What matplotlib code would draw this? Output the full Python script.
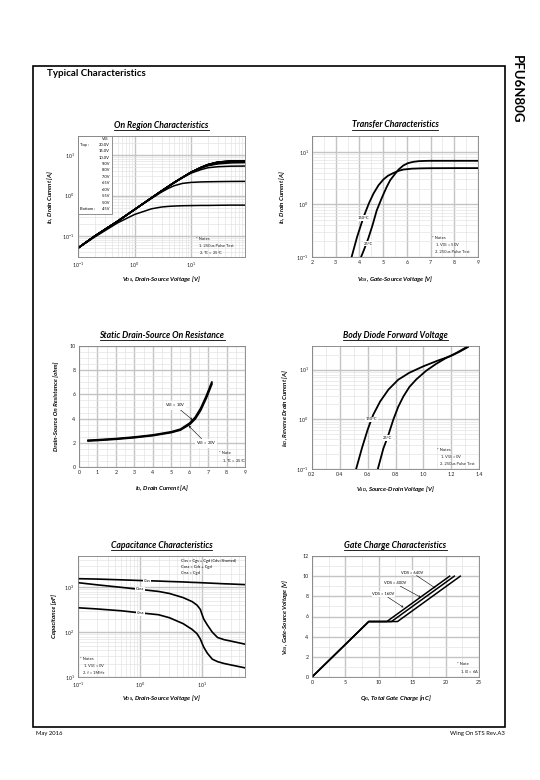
import matplotlib
matplotlib.use("Agg")
import matplotlib.pyplot as plt
from matplotlib.patches import Rectangle
from matplotlib.lines import Line2D
from matplotlib.ticker import AutoMinorLocator, NullFormatter, MultipleLocator, LogLocator

plt.rcParams['font.family'] = ['Lato', 'DejaVu Sans']
plt.rcParams['mathtext.fontset'] = 'custom'
plt.rcParams['mathtext.rm'] = 'Lato'
plt.rcParams['mathtext.it'] = 'Lato:bold:italic'
plt.rcParams['mathtext.bf'] = 'Lato:bold'

# ---------------- data ----------------
# On-region characteristics (VDS [V] -> ID [A])
on_vds = [0.1, 0.2, 0.5, 1, 2, 3, 4, 5, 7, 10, 15, 20, 30, 50, 90]
on_vgs_labels = ["20.0V", "15.0V", "10.0V", "9.0V", "8.0V", "7.0V", "6.5V", "6.0V", "5.5V", "5.0V", "4.5V"]
on_id_20 = [0.05, 0.1, 0.23, 0.45, 0.88, 1.3, 1.7, 2.1, 2.8, 3.8, 5.0, 5.9, 6.8, 7.2, 7.3]
on_id_15 = [0.05, 0.1, 0.23, 0.45, 0.88, 1.3, 1.7, 2.1, 2.8, 3.8, 5.0, 5.9, 6.8, 7.2, 7.3]
on_id_10 = [0.05, 0.1, 0.23, 0.45, 0.88, 1.3, 1.7, 2.1, 2.8, 3.8, 5.0, 5.9, 6.75, 7.15, 7.25]
on_id_9 = [0.05, 0.1, 0.23, 0.45, 0.88, 1.3, 1.7, 2.1, 2.8, 3.8, 5.0, 5.85, 6.7, 7.1, 7.2]
on_id_8 = [0.05, 0.1, 0.23, 0.45, 0.88, 1.3, 1.7, 2.1, 2.8, 3.8, 4.95, 5.8, 6.6, 7.0, 7.1]
on_id_7 = [0.05, 0.1, 0.23, 0.45, 0.88, 1.3, 1.7, 2.1, 2.8, 3.75, 4.9, 5.7, 6.5, 6.9, 7.0]
on_id_65 = [0.05, 0.1, 0.23, 0.45, 0.88, 1.3, 1.7, 2.1, 2.8, 3.75, 4.85, 5.6, 6.3, 6.7, 6.8]
on_id_6 = [0.05, 0.1, 0.23, 0.45, 0.88, 1.3, 1.7, 2.1, 2.8, 3.7, 4.8, 5.5, 6.1, 6.45, 6.55]
on_id_55 = [0.05, 0.1, 0.23, 0.45, 0.88, 1.3, 1.7, 2.05, 2.75, 3.6, 4.4, 4.9, 5.2, 5.35, 5.4]
on_id_5 = [0.05, 0.1, 0.23, 0.45, 0.85, 1.22, 1.52, 1.75, 2.0, 2.12, 2.18, 2.2, 2.22, 2.24, 2.25]
on_id_45 = [0.05, 0.095, 0.21, 0.34, 0.47, 0.52, 0.54, 0.55, 0.56, 0.565, 0.57, 0.57, 0.575, 0.58, 0.58]

# Transfer characteristics (VGS [V] -> ID [A])
tr_vgs_150 = [3.67, 3.9, 4.17, 4.4, 4.59, 4.8, 5.01, 5.2, 5.43, 5.65, 5.85, 6.2, 6.6, 7.0, 8.0, 9.0]
tr_id_150 = [0.1, 0.24, 0.57, 1.05, 1.6, 2.3, 2.98, 3.5, 3.95, 4.35, 4.6, 4.78, 4.85, 4.88, 4.9, 4.9]
tr_vgs_25 = [4.07, 4.2, 4.38, 4.55, 4.73, 4.95, 5.15, 5.3, 5.5, 5.65, 5.85, 6.05, 6.27, 6.5, 6.75, 7.0, 8.0, 9.0]
tr_id_25 = [0.1, 0.14, 0.23, 0.4, 0.77, 1.35, 2.15, 2.9, 3.8, 4.6, 5.5, 6.1, 6.45, 6.65, 6.72, 6.75, 6.75, 6.75]

# Static drain-source on resistance (ID [A] -> R [ohm])
ron_id = [0.5, 1, 2, 3, 4, 5, 5.5, 6, 6.3, 6.6, 6.9, 7.2]
ron_10v = [2.2, 2.24, 2.34, 2.47, 2.64, 2.9, 3.12, 3.62, 4.1, 4.85, 5.85, 7.0]
ron_20v = [2.16, 2.2, 2.3, 2.43, 2.6, 2.85, 3.06, 3.52, 3.98, 4.7, 5.7, 6.85]

# Body diode forward voltage (VSD [V] -> ISD [A])
bd_vsd_150 = [0.517, 0.56, 0.6, 0.64, 0.69, 0.75, 0.82, 0.9, 1.0, 1.1, 1.2, 1.26, 1.32]
bd_isd_150 = [0.1, 0.27, 0.62, 1.24, 2.3, 4.0, 6.3, 8.7, 11.7, 15.1, 19.0, 23.0, 28.5]
bd_vsd_25 = [0.673, 0.713, 0.745, 0.785, 0.82, 0.857, 0.9, 0.95, 1.02, 1.09, 1.16, 1.24, 1.32]
bd_isd_25 = [0.1, 0.26, 0.45, 1.0, 1.8, 2.9, 4.5, 6.4, 9.5, 13.0, 17.0, 22.0, 29.5]

# Capacitance characteristics (VDS [V] -> C [pF])
cap_vds = [0.1, 0.2, 0.5, 1, 2, 3, 5, 7, 8.4, 9.5, 10.2, 10.8, 12.3, 14.8, 18, 23, 30, 50]
cap_ciss = [1560, 1530, 1470, 1420, 1380, 1350, 1320, 1290, 1280, 1270, 1265, 1260, 1250, 1235, 1220, 1200, 1185, 1150]
cap_coss = [1270, 1140, 1000, 900, 810, 730, 590, 480, 400, 320, 240, 195, 145, 100, 76, 68, 63, 54]
cap_crss = [350, 330, 300, 270, 245, 210, 155, 115, 92, 70, 55, 46, 34, 25, 22, 20, 18.5, 16]

# Gate charge characteristics (QG [nC] -> VGS [V])
gc_vgs = [0, 5.5, 5.5, 10]
gc_qg_160 = [0, 8.5, 11.2, 20.6]
gc_qg_400 = [0, 8.5, 11.9, 21.3]
gc_qg_640 = [0, 8.5, 12.8, 22.2]

# ---------------- figure ----------------
W, H = 540, 780
fig = plt.figure(figsize=(W / 100, H / 100), dpi=100)


def fx(px):
    return px / W


def fy(py):
    return 1 - py / H


def ftext(px, py, s, **kw):
    return fig.text(fx(px), fy(py), s, **kw)


def make_ax(l, t, r, b):
    ax = fig.add_axes([fx(l), fy(b), (r - l) / W, (b - t) / H])
    for sp in ax.spines.values():
        sp.set_color('#808080')
        sp.set_linewidth(0.6)
    ax.tick_params(which='both', length=0, labelsize=3.8, pad=2.5, colors='#222222')
    ax.set_axisbelow(True)
    return ax


def style_grid(ax):
    ax.grid(which='major', color='#c4c4c4', lw=1.0)
    ax.grid(which='minor', color='#e2e2e2', lw=0.45)


titles = []


def add_title(ax, px_center, py, s):
    t = ftext(px_center, py, s, ha='center', va='center', fontsize=6.2,
              fontweight='bold', fontstyle='italic')
    titles.append(t)


lab_kw = dict(fontsize=4.4, fontweight='bold', fontstyle='italic')
note_kw = dict(fontsize=3.0, color='#222222')

# outer frame
fig.add_artist(Rectangle((fx(33), fy(727)), (505 - 33) / W, (727 - 66) / H,
                         transform=fig.transFigure, fill=False, lw=1.2, ec='black'))
ftext(47, 73, "Typical Characteristics", fontsize=7, fontweight='bold', va='center')
ftext(517, 89, "PFU6N80G", fontsize=9.5, fontweight='bold', rotation=-90, ha='center', va='center')
ftext(36, 733, "May 2016", fontsize=4.2, va='center')
ftext(505, 733, "Wing On STS Rev.A3", fontsize=4.2, va='center', ha='right')

# ---------- 1. On Region ----------
ax1 = make_ax(78, 136, 245, 257)
ax1.set_xscale('log')
ax1.set_yscale('log')
on_curves = [on_id_20, on_id_15, on_id_10, on_id_9, on_id_8, on_id_7, on_id_65, on_id_6, on_id_55, on_id_5, on_id_45]
for c in on_curves:
    ax1.plot(on_vds, c, color='black', lw=1.1, solid_capstyle='butt')
ax1.set_xlim(0.1, 90)
ax1.set_ylim(0.03, 30)
ax1.xaxis.set_major_locator(LogLocator(base=10, numticks=10))
style_grid(ax1)
ax1.xaxis.set_minor_formatter(NullFormatter())
ax1.yaxis.set_minor_formatter(NullFormatter())
ax1.set_xlabel("$V_{DS}$, Drain-Source Voltage [V]", **lab_kw)
ax1.set_ylabel("$I_D$, Drain Current [A]", **lab_kw)
ax1.xaxis.set_label_coords(0.5, -0.14)
ax1.yaxis.set_label_coords(-0.14, 0.5)
add_title(ax1, 161.5, 125, "On Region Characteristics")
# legend box
ax1.add_patch(Rectangle((0, 0.355), 0.204, 0.645, transform=ax1.transAxes,
                        facecolor='white', edgecolor='#808080', lw=0.6, zorder=5))
ftext(109, 139, "V$_\\mathrm{GS}$", ha='right', va='center', fontsize=2.9, zorder=6)
for i, s in enumerate(on_vgs_labels):
    ftext(110, 144.7 + i * 6.43, s, ha='right', va='center', fontsize=2.9, zorder=6)
ftext(80.5, 144.7, "Top :", ha='left', va='center', fontsize=2.9, zorder=6)
ftext(80.5, 144.7 + 10 * 6.43, "Bottom :", ha='left', va='center', fontsize=2.9, zorder=6)
ftext(196, 239, "* Notes", va='center', **note_kw)
ftext(199, 246, "1. 250us Pulse Test", va='center', **note_kw)
ftext(199, 253, "2. T$_\\mathrm{C}$ = 25°C", va='center', **note_kw)

# ---------- 2. Transfer ----------
ax2 = make_ax(312, 136, 478, 257)
ax2.set_yscale('log')
ax2.plot(tr_vgs_150, tr_id_150, color='black', lw=1.3)
ax2.plot(tr_vgs_25, tr_id_25, color='black', lw=1.3)
ax2.set_xlim(2, 9)
ax2.set_ylim(0.1, 20)
ax2.xaxis.set_major_locator(MultipleLocator(1))
ax2.xaxis.set_minor_locator(AutoMinorLocator(2))
style_grid(ax2)
ax2.yaxis.set_minor_formatter(NullFormatter())
ax2.set_xlabel("$V_{GS}$, Gate-Source Voltage [V]", **lab_kw)
ax2.set_ylabel("$I_D$, Drain Current [A]", **lab_kw)
ax2.xaxis.set_label_coords(0.5, -0.14)
ax2.yaxis.set_label_coords(-0.15, 0.5)
add_title(ax2, 395, 125, "Transfer Characteristics")
bb = dict(facecolor='white', edgecolor='none', pad=0.6)
ax2.text(4.17, 0.55, "150°C", fontsize=3.0, ha='center', va='center', bbox=bb)
ax2.text(4.37, 0.18, "25°C", fontsize=3.0, ha='center', va='center', bbox=bb)
ftext(432, 238, "* Notes", va='center', **note_kw)
ftext(435, 245, "1. V$_\\mathrm{DS}$ = 50V", va='center', **note_kw)
ftext(435, 252, "2. 250us Pulse Test", va='center', **note_kw)

# ---------- 3. On Resistance ----------
ax3 = make_ax(79, 346, 245, 467)
ax3.plot(ron_id, ron_10v, color='black', lw=1.4)
ax3.plot(ron_id, ron_20v, color='black', lw=1.4)
ax3.set_xlim(0, 9)
ax3.set_ylim(0, 10)
ax3.xaxis.set_major_locator(MultipleLocator(1))
ax3.yaxis.set_major_locator(MultipleLocator(2))
ax3.xaxis.set_minor_locator(AutoMinorLocator(2))
ax3.yaxis.set_minor_locator(AutoMinorLocator(4))
style_grid(ax3)
ax3.set_xlabel("$I_D$, Drain Current [A]", **lab_kw)
ax3.set_ylabel("Drain-Source On Resistance [ohm]", **lab_kw)
ax3.xaxis.set_label_coords(0.5, -0.13)
ax3.yaxis.set_label_coords(-0.12, 0.5)
add_title(ax3, 162, 335, "Static Drain-Source On Resistance")
ap = dict(arrowstyle='->', lw=0.4, color='black', shrinkA=0, shrinkB=0, mutation_scale=3)
ax3.annotate("V$_\\mathrm{GS}$ = 10V", xy=(6.15, 3.9), xytext=(5.2, 5.1),
             fontsize=3.0, ha='center', va='center', arrowprops=ap, bbox=bb)
ax3.annotate("V$_\\mathrm{GS}$ = 20V", xy=(5.95, 3.4), xytext=(6.9, 1.95),
             fontsize=3.0, ha='center', va='center', arrowprops=ap, bbox=bb)
ftext(219, 453, "* Note", va='center', **note_kw)
ftext(222, 461, "1. T$_\\mathrm{C}$ = 25°C", va='center', **note_kw)

# ---------- 4. Body Diode ----------
ax4 = make_ax(312, 346, 479, 469)
ax4.set_yscale('log')
ax4.plot(bd_vsd_150, bd_isd_150, color='black', lw=1.3)
ax4.plot(bd_vsd_25, bd_isd_25, color='black', lw=1.3)
ax4.set_xlim(0.2, 1.4)
ax4.set_ylim(0.1, 30)
ax4.xaxis.set_major_locator(MultipleLocator(0.2))
ax4.xaxis.set_minor_locator(AutoMinorLocator(2))
ax4.xaxis.set_major_formatter(plt.FuncFormatter(lambda v, p: f"{v:.1f}"))
style_grid(ax4)
ax4.yaxis.set_minor_formatter(NullFormatter())
ax4.set_xlabel("$V_{SD}$, Source-Drain Voltage [V]", **lab_kw)
ax4.set_ylabel("$I_{SD}$, Reverse Drain Current [A]", **lab_kw)
ax4.xaxis.set_label_coords(0.5, -0.12)
ax4.yaxis.set_label_coords(-0.13, 0.5)
add_title(ax4, 395.5, 335, "Body Diode Forward Voltage")
ax4.text(0.625, 1.0, "150°C", fontsize=3.0, ha='center', va='center', bbox=bb)
ax4.text(0.745, 0.42, "25°C", fontsize=3.0, ha='center', va='center', bbox=bb)
ftext(437, 450, "* Notes", va='center', **note_kw)
ftext(440, 457, "1. V$_\\mathrm{GS}$ = 0V", va='center', **note_kw)
ftext(440, 464, "2. 250us Pulse Test", va='center', **note_kw)

# ---------- 5. Capacitance ----------
ax5 = make_ax(78, 556, 245, 677)
ax5.set_xscale('log')
ax5.set_yscale('log')
ax5.plot(cap_vds, cap_ciss, color='black', lw=1.2)
ax5.plot(cap_vds, cap_coss, color='black', lw=1.2)
ax5.plot(cap_vds, cap_crss, color='black', lw=1.2)
ax5.set_xlim(0.1, 50)
ax5.set_ylim(10, 5000)
style_grid(ax5)
ax5.xaxis.set_minor_formatter(NullFormatter())
ax5.yaxis.set_minor_formatter(NullFormatter())
ax5.set_xlabel("$V_{DS}$, Drain-Source Voltage [V]", **lab_kw)
ax5.set_ylabel("Capacitance [pF]", **lab_kw)
ax5.xaxis.set_label_coords(0.5, -0.13)
ax5.yaxis.set_label_coords(-0.126, 0.5)
add_title(ax5, 161.5, 545, "Capacitance Characteristics")
ax5.text(1.3, 1400, "Ciss", fontsize=2.9, ha='center', va='center', bbox=bb)
ax5.text(1.0, 900, "Coss", fontsize=2.9, ha='center', va='center', bbox=bb)
ax5.text(1.03, 265, "Crss", fontsize=2.9, ha='center', va='center', bbox=bb)
ftext(181, 561, "Ciss = Cgs + Cgd (Cds=Shorted)", va='center', fontsize=2.9)
ftext(181, 567, "Coss = Cds + Cgd", va='center', fontsize=2.9)
ftext(181, 573, "Crss = Cgd", va='center', fontsize=2.9)
ftext(80, 659, "* Notes", va='center', **note_kw)
ftext(83, 666, "1. V$_\\mathrm{GS}$ = 0V", va='center', **note_kw)
ftext(83, 673, "2. f = 1MHz", va='center', **note_kw)

# ---------- 6. Gate Charge ----------
ax6 = make_ax(312, 556, 479, 677)
ax6.plot(gc_qg_160, gc_vgs, color='black', lw=1.1)
ax6.plot(gc_qg_400, gc_vgs, color='black', lw=1.1)
ax6.plot(gc_qg_640, gc_vgs, color='black', lw=1.1)
ax6.set_xlim(0, 25)
ax6.set_ylim(0, 12)
ax6.xaxis.set_major_locator(MultipleLocator(5))
ax6.yaxis.set_major_locator(MultipleLocator(2))
ax6.xaxis.set_minor_locator(AutoMinorLocator(2))
ax6.yaxis.set_minor_locator(AutoMinorLocator(2))
style_grid(ax6)
ax6.set_xlabel("$Q_G$, Total Gate Charge [nC]", **lab_kw)
ax6.set_ylabel("$V_{GS}$, Gate-Source Voltage [V]", **lab_kw)
ax6.xaxis.set_label_coords(0.5, -0.13)
ax6.yaxis.set_label_coords(-0.13, 0.5)
add_title(ax6, 395.5, 545, "Gate Charge Characteristics")
ax6.annotate("VDS = 640V", xy=(18.5, 8.8), xytext=(15.0, 10.35),
             fontsize=2.9, ha='center', va='center', arrowprops=ap, bbox=bb)
ax6.annotate("VDS = 400V", xy=(16.3, 7.9), xytext=(12.4, 9.3),
             fontsize=2.9, ha='center', va='center', arrowprops=ap, bbox=bb)
ax6.annotate("VDS = 160V", xy=(13.7, 6.9), xytext=(10.7, 8.2),
             fontsize=2.9, ha='center', va='center', arrowprops=ap, bbox=bb)
ftext(457, 664, "* Note", va='center', **note_kw)
ftext(460, 672, "1. I$_\\mathrm{D}$ = 6A", va='center', **note_kw)

# underline titles
fig.canvas.draw()
r = fig.canvas.get_renderer()
for t in titles:
    e = t.get_window_extent(r)
    x0, x1 = e.x0 / W, e.x1 / W
    yl = (e.y0 - 0.3) / H
    fig.add_artist(Line2D([x0, x1], [yl, yl], transform=fig.transFigure, color='black', lw=0.6))

fig.savefig("out.png", dpi=100)
